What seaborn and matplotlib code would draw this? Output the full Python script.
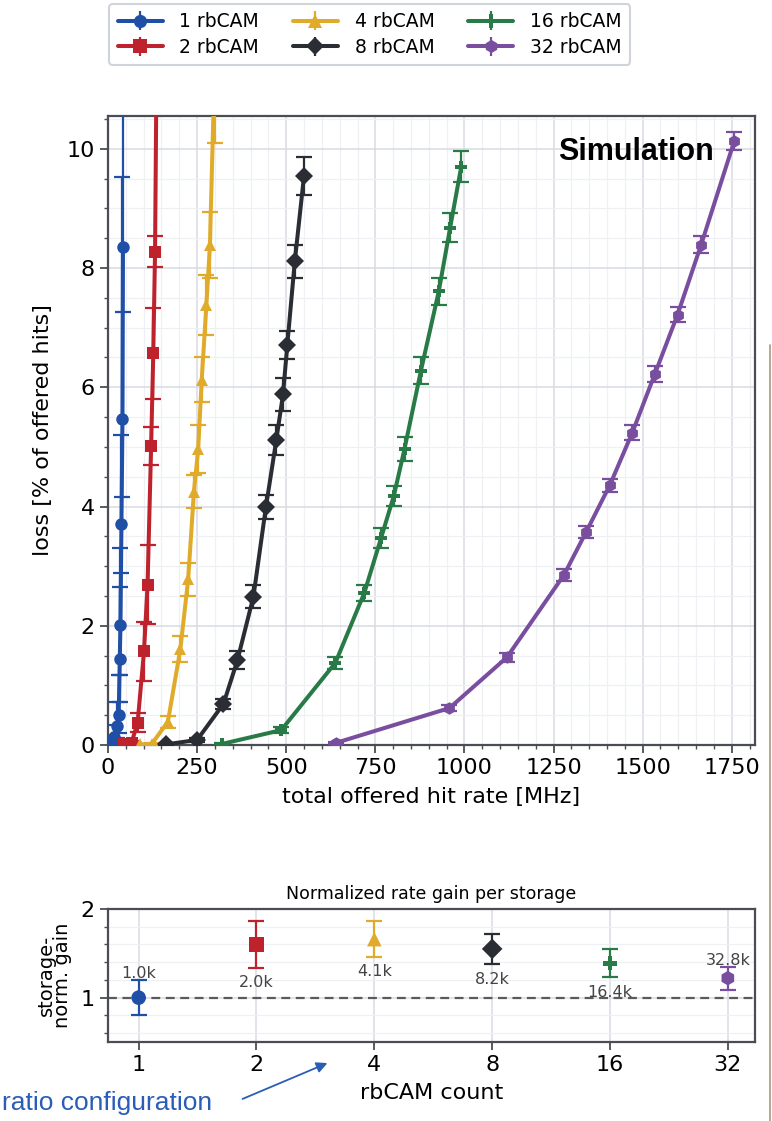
import numpy as np
import pandas as pd
import matplotlib
matplotlib.use("Agg")
import matplotlib.pyplot as plt
import seaborn as sns
from matplotlib.ticker import MultipleLocator, NullLocator, FixedLocator
from matplotlib.lines import Line2D

# ---- data ----
configs = ['1 rbCAM', '2 rbCAM', '4 rbCAM', '8 rbCAM', '16 rbCAM', '32 rbCAM']
colors = ['#1f4fa6', '#be232d', '#e0ab2a', '#2b2d35', '#287a46', '#7a4e9e']
marks = ['o', 's', '^', 'D', 'P', 'h']

rate_1 = [10, 18, 25, 30, 33, 35, 37.7, 40.6, 42]
loss_1 = [0.03, 0.14, 0.32, 0.50, 1.45, 2.02, 3.70, 5.47, 8.36]
err_1_lo = [0.02, 0.1, 0.2, 0.3, 0.73, 0.85, 0.81, 1.31, 1.10]
err_1_hi = [0.1, 0.2, 0.4, 0.67, 1.2, 1.29, 1.5, 4.06, 2.5]

rate_2 = [45, 52, 66, 83, 101, 111, 121, 127, 132, 137]
loss_2 = [0.01, 0.02, 0.04, 0.37, 1.57, 2.69, 5.01, 6.57, 8.27, 12.0]
err_2 = [0.01, 0.02, 0.03, 0.16, 0.49, 0.66, 0.32, 0.76, 0.26, 0.5]

rate_4 = [90, 123, 168, 203, 225, 241, 253, 263, 276, 286, 301]
loss_4 = [0.01, 0.02, 0.39, 1.61, 2.78, 4.25, 4.96, 6.13, 7.38, 8.39, 11.8]
err_4 = [0.01, 0.02, 0.1, 0.22, 0.28, 0.28, 0.4, 0.38, 0.5, 0.55, 1.71]

rate_8 = [162, 250, 324, 363, 408, 443, 472, 491, 503, 524, 550]
loss_8 = [0.01, 0.085, 0.69, 1.42, 2.49, 3.99, 5.11, 5.88, 6.71, 8.11, 9.55]
err_8 = [0.01, 0.03, 0.08, 0.15, 0.2, 0.2, 0.25, 0.28, 0.24, 0.28, 0.32]

rate_16 = [321, 486, 638, 719, 766, 802, 832, 878, 928, 960, 991]
loss_16 = [0.02, 0.25, 1.38, 2.55, 3.47, 4.18, 4.97, 6.28, 7.61, 8.68, 9.70]
err_16 = [0.01, 0.05, 0.1, 0.13, 0.17, 0.17, 0.2, 0.23, 0.23, 0.25, 0.26]

rate_32 = [639, 958, 1119, 1279, 1342, 1408, 1471, 1534, 1598, 1664, 1757]
loss_32 = [0.035, 0.62, 1.47, 2.85, 3.58, 4.36, 5.24, 6.22, 7.22, 8.39, 10.13]
err_32 = [0.02, 0.05, 0.07, 0.1, 0.1, 0.11, 0.12, 0.13, 0.13, 0.14, 0.15]

counts = [1, 2, 4, 8, 16, 32]
gain = [1.0, 1.60, 1.66, 1.55, 1.39, 1.22]
gain_err = [0.2, 0.26, 0.2, 0.17, 0.16, 0.13]
storage = ['1.0k', '2.0k', '4.1k', '8.2k', '16.4k', '32.8k']
label_side = ['above', 'below', 'below', 'below', 'below', 'above']

rates = [rate_1, rate_2, rate_4, rate_8, rate_16, rate_32]
losses = [loss_1, loss_2, loss_4, loss_8, loss_16, loss_32]
errs = [[err_1_lo, err_1_hi], err_2, err_4, err_8, err_16, err_32]

df = pd.concat([
    pd.DataFrame({'rate': r, 'loss': l, 'config': c})
    for r, l, c in zip(rates, losses, configs)
], ignore_index=True)

palette = dict(zip(configs, colors))
marker_map = dict(zip(configs, marks))

sns.set_style('ticks')
plt.rcParams['font.family'] = ['DejaVu Sans']
plt.rcParams['text.color'] = 'black'
plt.rcParams['axes.labelcolor'] = 'black'

fig = plt.figure(figsize=(7.72, 11.21), dpi=100)
ax = fig.add_axes([0.1399, 0.3354, 0.838, 0.5611])

major_grid = '#d8dbe3'
minor_grid = '#eef0f4'
spine_col = '#4a4d55'

for r, l, e, c in zip(rates, losses, errs, colors):
    ax.errorbar(r, l, yerr=e, fmt='none', ecolor=c, elinewidth=1.6,
                capsize=6, capthick=1.6, zorder=3)

sns.lineplot(data=df, x='rate', y='loss', hue='config', style='config',
             palette=palette, markers=marker_map, dashes=False, sort=False,
             estimator=None, lw=2.9, markersize=9, markeredgewidth=0,
             legend=False, ax=ax, zorder=4)

ax.set_xlim(0, 1815)
ax.set_ylim(0, 10.55)
ax.xaxis.set_major_locator(MultipleLocator(250))
ax.xaxis.set_minor_locator(MultipleLocator(50))
ax.yaxis.set_major_locator(MultipleLocator(2))
ax.yaxis.set_minor_locator(MultipleLocator(0.5))
ax.grid(which='major', color=major_grid, lw=1.1, zorder=0)
ax.grid(which='minor', color=minor_grid, lw=0.9, zorder=0)
ax.set_axisbelow(True)
ax.tick_params(which='major', length=6, width=1.3, labelsize=16,
               color=spine_col, labelcolor='black')
ax.tick_params(which='minor', length=3, width=1.0, color=spine_col)
for s in ax.spines.values():
    s.set_color(spine_col)
    s.set_linewidth(1.6)
ax.set_xlabel('total offered hit rate [MHz]', fontsize=16, labelpad=6)
ax.set_ylabel('loss [% of offered hits]', fontsize=16, labelpad=10)
ax.text(0.937, 0.943, 'Simulation', transform=ax.transAxes, ha='right',
        va='center', fontsize=22, fontweight='bold', family='Liberation Sans',
        color='black')

# legend proxies with error bars
handles = []
for c, m, name in zip(colors, marks, configs):
    h = ax.errorbar([np.nan], [np.nan], yerr=[1], fmt=m + '-', color=c,
                    ms=9.5, mew=0, lw=2.9, elinewidth=1.6, capsize=6,
                    capthick=1.6, label=name)
    handles.append(h)
leg = fig.legend(handles, configs, loc='upper center',
                 bbox_to_anchor=(0.479, 1.005), ncol=3, fontsize=13.5,
                 frameon=True, fancybox=True, handlelength=2.4,
                 columnspacing=1.8, borderpad=0.45, labelspacing=0.35,
                 handletextpad=0.9)
leg.get_frame().set_edgecolor('#c5c9d1')
leg.get_frame().set_linewidth(1.5)

# ---- bottom panel ----
bx = fig.add_axes([0.1399, 0.0705, 0.838, 0.1186])
gdf = pd.DataFrame({'count': counts, 'gain': gain, 'config': configs})
for x, y, e, c in zip(counts, gain, gain_err, colors):
    bx.errorbar([x], [y], yerr=[e], fmt='none', ecolor=c, elinewidth=1.6,
                capsize=6, capthick=1.6, zorder=3)
sns.scatterplot(data=gdf, x='count', y='gain', hue='config', style='config',
                palette=palette, markers=marker_map, s=110, linewidth=0,
                legend=False, ax=bx, zorder=4)
bx.axhline(1, color='#5a5a5a', lw=1.6, ls=(0, (4, 2.5)), zorder=2)
for x, y, e, t, side in zip(counts, gain, gain_err, storage, label_side):
    ty = y + e + 0.07 if side == 'above' else y - e - 0.17
    bx.text(x, ty, t, ha='center', va='center', fontsize=11.5, color='#444444')

bx.set_xscale('log', base=2)
bx.set_xlim(2 ** -0.26, 2 ** 5.23)
bx.xaxis.set_major_locator(FixedLocator(counts))
bx.set_xticklabels([str(c) for c in counts])
bx.xaxis.set_minor_locator(NullLocator())
bx.set_ylim(0.5, 2.0)
bx.yaxis.set_major_locator(MultipleLocator(1))
bx.yaxis.set_minor_locator(MultipleLocator(0.2))
bx.grid(which='major', color=major_grid, lw=1.1, zorder=0)
bx.grid(which='minor', axis='y', color=minor_grid, lw=0.9, zorder=0)
bx.set_axisbelow(True)
bx.tick_params(which='major', length=6, width=1.3, labelsize=16,
               color=spine_col, labelcolor='black')
bx.tick_params(which='minor', length=3, width=1.0, color=spine_col)
for s in bx.spines.values():
    s.set_color(spine_col)
    s.set_linewidth(1.6)
bx.set_title('Normalized rate gain per storage', fontsize=12.5, pad=7)
bx.set_xlabel('rbCAM count', fontsize=16, labelpad=6)
bx.set_ylabel('storage-\nnorm. gain', fontsize=14, labelpad=6, linespacing=0.85)

# annotation arrow pointing at the panel
fig.text(0.003, 0.016, 'ratio configuration', ha='left', va='center',
         fontsize=19, color='#2a5db5', family='Liberation Sans')
fig.add_artist(matplotlib.patches.FancyArrowPatch(
    (240 / 772, 1 - 1100 / 1121), (330 / 772, 1 - 1062 / 1121),
    transform=fig.transFigure, arrowstyle='-|>', mutation_scale=16,
    color='#2a5db5', lw=1.3))
fig.add_artist(Line2D([0.998, 0.998], [0.0, 1 - 345 / 1121],
                      transform=fig.transFigure, color='#a89a7e', lw=1.2))

fig.savefig('out.png', dpi=100)
